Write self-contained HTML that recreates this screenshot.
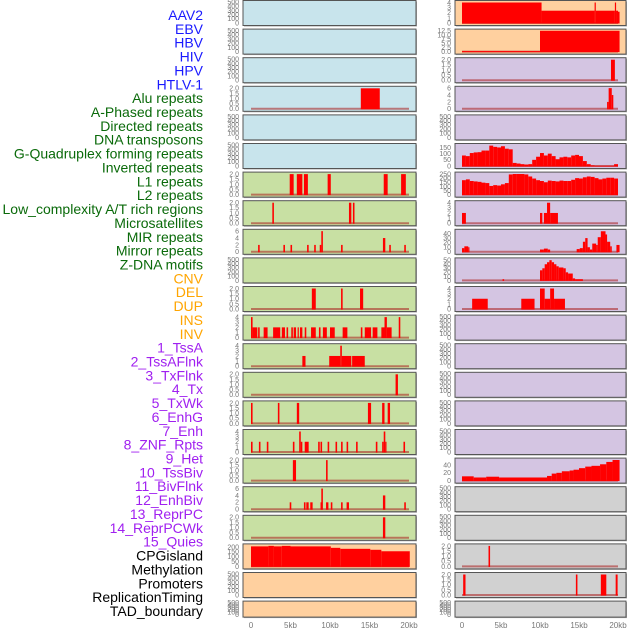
<!DOCTYPE html>
<html><head><meta charset="utf-8"><style>
html,body{margin:0;padding:0;background:#fff;}
svg{display:block;font-family:"Liberation Sans",sans-serif;}
</style></head><body>
<svg id="chart" width="630" height="630" viewBox="0 0 630 630" xmlns="http://www.w3.org/2000/svg"></svg>
<script>
// ---- labels ----
const trackLabels = ["AAV2","EBV","HBV","HIV","HPV","HTLV-1","Alu repeats","A-Phased repeats","Directed repeats","DNA transposons","G-Quadruplex forming repeats","Inverted repeats","L1 repeats","L2 repeats","Low_complexity A/T rich regions","Microsatellites","MIR repeats","Mirror repeats","Z-DNA motifs","CNV","DEL","DUP","INS","INV","1_TssA","2_TssAFlnk","3_TxFlnk","4_Tx","5_TxWk","6_EnhG","7_Enh","8_ZNF_Rpts","9_Het","10_TssBiv","11_BivFlnk","12_EnhBiv","13_ReprPC","14_ReprPCWk","15_Quies","CPGisland","Methylation","Promoters","ReplicationTiming","TAD_boundary"];
const labelGroups = ["virus","virus","virus","virus","virus","virus","repeat","repeat","repeat","repeat","repeat","repeat","repeat","repeat","repeat","repeat","repeat","repeat","repeat","sv","sv","sv","sv","sv","chrom","chrom","chrom","chrom","chrom","chrom","chrom","chrom","chrom","chrom","chrom","chrom","chrom","chrom","chrom","other","other","other","other","other"];
const xTicks = [0,5,10,15,20];
const xTickLabels = ["0","5kb","10kb","15kb","20kb"];
// ---- series: [startKb, endKb, value] ----
const dHIV = [[13.9,16.3,2]];
const dAlu = [[4.9,5.4,2],[5.8,6.5,2],[6.7,7.2,2],[9.7,10.1,2],[16.8,17.3,2],[19.0,19.6,2]];
const dAPhased = [[2.7,2.9,2],[12.4,12.7,2],[12.9,13.1,2]];
const dDirected = [[0.9,1.1,2],[4.1,4.3,2],[5.0,5.2,2],[7.1,7.3,2],[8.0,8.2,2],[8.7,8.9,2],[8.9,9.1,6],[11.4,11.6,2],[16.7,17.0,4],[17.5,17.7,2],[19.4,19.6,2]];
const dGQuad = [[7.7,8.2,2],[11.4,11.6,2],[13.8,14.2,2]];
const dInverted = [[0.0,0.2,4],[0.2,0.8,2],[0.9,1.1,2],[1.6,2.1,2],[2.8,3.7,2],[3.9,4.3,2],[4.5,4.7,2],[5.1,5.3,2],[5.4,5.7,2],[5.9,6.0,2],[6.2,6.5,2],[6.8,7.0,2],[7.6,8.2,2],[8.6,8.8,2],[9.1,9.6,2],[10.0,10.6,2],[11.6,12.2,2],[13.9,14.1,2],[14.4,15.2,2],[15.4,16.0,2],[16.5,16.9,2],[16.9,17.2,4],[17.2,17.8,2],[18.7,18.9,4]];
const dL1 = [[6.5,6.9,2],[9.9,11.3,2],[11.3,11.5,4],[11.5,12.7,2],[12.8,14.4,2]];
const dL2 = [[18.3,18.6,2]];
const dLowComplex = [[0.0,0.2,2],[3.4,3.6,2],[5.8,6.1,2],[14.8,15.2,2],[16.6,16.9,2],[17.3,17.6,2]];
const dMicrosat = [[0.0,0.2,2],[1.0,1.2,2],[2.0,2.2,2],[5.3,5.5,2],[6.1,6.3,4],[6.3,6.5,2],[6.8,7.3,2],[8.5,8.7,2],[8.8,9.0,2],[9.7,9.9,2],[10.7,10.9,2],[11.4,11.6,2],[12.1,12.3,2],[13.3,13.5,2],[15.8,16.0,2],[16.6,16.8,2],[16.8,17.0,4],[17.0,17.1,2],[19.3,19.5,2]];
const dMIR = [[5.3,5.7,2],[9.5,9.7,2]];
const dMirror = [[4.9,5.1,2],[6.7,6.9,2],[7.0,7.3,2],[7.5,7.8,2],[8.8,8.9,2],[8.9,9.1,6],[9.5,9.8,2],[10.1,10.3,2],[11.4,11.6,2],[12.1,12.4,2],[16.7,17.0,4],[19.4,19.6,2]];
const dZDNA = [[16.7,17.0,2]];
const dCNV = [[0.0,2.2,205],[2.2,2.9,210],[2.9,3.9,205],[3.9,5.0,210],[5.0,10.1,205],[10.1,11.3,190],[11.3,15.1,180],[15.1,16.5,170],[16.5,20.1,155]];
const dINS = [[0.0,10.2,4],[10.2,17.0,2.4],[17.0,17.15,4],[17.15,19.6,2.4],[19.6,19.75,4],[19.75,20.0,2.4],[20.0,20.2,2.2]];
const dINV = [[0.0,10.0,0.3],[10.0,20.2,12.5]];
const dTssA = [[19.1,19.6,2]];
const dTssAFlnk = [[18.6,18.8,2],[18.8,19.2,6],[19.2,19.4,4]];
const dTx = [[0,0.5,85],[0.5,1,80],[1,1.5,105],[1.5,2,110],[2,2.5,112],[2.5,3,125],[3,3.5,125],[3.5,4,165],[4,4.5,155],[4.5,5,150],[5,5.5,160],[5.5,6,140],[6,6.5,135],[6.5,7,25],[7,7.5,20],[7.5,8,15],[8,8.5,12],[8.5,9,15],[9,9.5,50],[9.5,10,75],[10,10.5,105],[10.5,11,85],[11,11.5,100],[11.5,12,80],[12,12.5,55],[12.5,13,70],[13,13.5,75],[13.5,14,70],[14,14.5,85],[14.5,15,90],[15,15.5,80],[15.5,16,40],[16,16.5,15],[16.5,17,5],[17,19.5,2],[19.5,20,15]];
const dTxWk = [[0,0.5,175],[0.5,1,185],[1,1.5,165],[1.5,2,160],[2,2.5,155],[2.5,3,145],[3,3.5,140],[3.5,4,105],[4,4.5,115],[4.5,5,110],[5,5.5,125],[5.5,6,140],[6,6.5,245],[6.5,7,250],[7,7.5,250],[7.5,8,250],[8,8.5,245],[8.5,9,220],[9,9.5,195],[9.5,10,175],[10,10.5,165],[10.5,11,150],[11,11.5,170],[11.5,12,165],[12,12.5,160],[12.5,13,170],[13,13.5,165],[13.5,14,165],[14,14.5,180],[14.5,15,200],[15,15.5,195],[15.5,16,210],[16,16.5,220],[16.5,17,215],[17,17.5,200],[17.5,18,185],[18,18.5,195],[18.5,19,205],[19,19.5,205],[19.5,20,195]];
const dEnhG = [[0.0,0.5,2],[10.0,10.3,2],[10.5,10.9,2],[10.9,11.3,4],[11.3,12.3,2]];
const dEnh = [[0.0,0.3,8],[0.3,0.8,12],[0.8,0.9,10],[10.0,10.5,5],[10.5,11.0,7],[11.0,11.3,5],[14.7,15.1,6],[15.1,15.5,8],[15.5,15.8,22],[15.8,16.1,30],[16.1,16.4,10],[16.4,16.7,5],[16.7,17.2,18],[17.2,17.4,15],[17.4,17.8,32],[17.8,18.4,45],[18.4,18.6,38],[18.6,19.0,22],[19.0,19.2,12],[19.8,20.2,15]];
const dZNF = [[5.2,5.4,3],[10.0,10.3,25],[10.3,10.6,30],[10.6,10.9,40],[10.9,11.2,45],[11.2,11.5,50],[11.5,11.8,45],[11.8,12.1,40],[12.1,12.4,35],[12.4,13.0,32],[13.0,13.3,30],[13.3,13.6,20],[13.6,14.2,17],[14.2,14.5,5],[14.5,15.5,3]];
const dHet = [[1.3,3.3,2],[7.6,9.3,2],[10.0,10.6,4],[10.6,11.3,2],[11.3,11.8,4],[11.8,13.2,2]];
const dQuies = [[0,1.5,11],[1.5,3.1,8],[3.1,4.75,10],[4.75,10.9,8],[10.9,11.5,12],[11.5,12.1,18],[12.1,12.8,20],[12.8,13.8,24],[13.8,14.3,26],[14.3,15.0,28],[15.0,15.8,32],[15.8,16.6,36],[16.6,17.7,38],[17.7,18.5,42],[18.5,19.3,48],[19.3,20.2,53]];
const dPromoters = [[3.4,3.6,2]];
const dRepTiming = [[0.15,0.45,2],[14.6,14.8,2],[17.8,18.5,2],[19.7,19.95,2]];
// y ticks per panel kind
const ticksEmpty = [0,100,200,300,400,500];
const ticks2 = [0,0.5,1.0,1.5,2.0];
const ticks4 = [0,1,2,3,4];
const ticks6 = [0,2,4,6];
const ticksCNV = [0,50,100,150,200];
const ticksINV = [0,2.5,5,7.5,10,12.5];
const ticks150 = [0,50,100,150];
const ticks250 = [0,50,100,150,200,250];
const ticks40 = [0,10,20,30,40];
const ticks50 = [0,10,20,30,40,50];
const ticksQ = [0,20,40];

const leftPanels = [
 [null,ticksEmpty,500,"blue"],[null,ticksEmpty,500,"blue"],[null,ticksEmpty,500,"blue"],
 [dHIV,ticks2,2.05,"blue"],[null,ticksEmpty,500,"blue"],[null,ticksEmpty,500,"blue"],
 [dAlu,ticks2,2.05,"green"],[dAPhased,ticks2,2.05,"green"],[dDirected,ticks6,6.1,"green"],
 [null,ticksEmpty,500,"green"],[dGQuad,ticks2,2.05,"green"],[dInverted,ticks4,4.1,"green"],
 [dL1,ticks4,4.1,"green"],[dL2,ticks2,2.05,"green"],[dLowComplex,ticks2,2.05,"green"],
 [dMicrosat,ticks4,4.1,"green"],[dMIR,ticks2,2.05,"green"],[dMirror,ticks6,6.1,"green"],
 [dZDNA,ticks2,2.05,"green"],[dCNV,ticksCNV,215,"orange"],[null,ticksEmpty,500,"orange"],[null,ticksEmpty,500,"orange"]
];
const rightPanels = [
 [dINS,ticks4,4.1,"orange"],[dINV,ticksINV,12.6,"orange"],[dTssA,ticks2,2.05,"purple"],
 [dTssAFlnk,ticks6,6.1,"purple"],[null,ticksEmpty,500,"purple"],[dTx,ticks150,170,"purple"],
 [dTxWk,ticks250,255,"purple"],[dEnhG,ticks4,4.1,"purple"],[dEnh,ticks40,46,"purple"],
 [dZNF,ticks50,52,"purple"],[dHet,ticks4,4.1,"purple"],[null,ticksEmpty,500,"purple"],
 [null,ticksEmpty,500,"purple"],[null,ticksEmpty,500,"purple"],[null,ticksEmpty,500,"purple"],
 [null,ticksEmpty,500,"purple"],[dQuies,ticksQ,54,"purple"],[null,ticksEmpty,500,"gray"],
 [null,ticksEmpty,500,"gray"],[dPromoters,ticks2,2.05,"gray"],[dRepTiming,ticks2,2.05,"gray"],[null,ticksEmpty,500,"gray"]
];

const NS = "http://www.w3.org/2000/svg";
const svg = document.getElementById("chart");
const bgColors = {blue:"#c8e4ec",green:"#c8e0a3",orange:"#ffd09f",purple:"#d4c5e2",gray:"#d1d1d1"};
const labelColors = {virus:"#1a1aff",repeat:"#0a6a0a",sv:"#ffa500",chrom:"#a020f0",other:"#000000"};
function mk(tag, attrs){const e=document.createElementNS(NS,tag);for(const k in attrs)e.setAttribute(k,attrs[k]);return e;}

// labels
trackLabels.forEach((t,i)=>{
  const el = mk("text",{x:203,y:20+i*13.86,"text-anchor":"end","font-size":"14",fill:labelColors[labelGroups[i]]});
  el.textContent=t;
  
  
  svg.appendChild(el);
});

function fmt(v,ticks){const dec=ticks.some(t=>t%1!==0);return dec?v.toFixed(1):String(v);}

function drawColumn(panels, x0, x1, xZero, xScale, colName){
  const xs = kb => xZero + kb*xScale;
  panels.forEach((p,i)=>{
    const [data,ticks,ymax,bg]=p;
    const top = 0.5 + i*28.6;
    const h = (i===panels.length-1)?16:25;
    const yb = top + h - 2.5, yt = top + 1.5;
    const ys = v => yb - (v/ymax)*(yb-yt);
    const g = mk("g",{});
    
    
    g.appendChild(mk("rect",{x:x0+1,y:top+1,width:x1-x0,height:h,fill:"#aaa"}));
    g.appendChild(mk("rect",{x:x0,y:top,width:x1-x0,height:h,fill:bgColors[bg],stroke:"#555","stroke-width":1}));
    ticks.forEach(t=>{
      const tl=mk("text",{x:x0-4,y:ys(t)+2.4,"text-anchor":"end","font-size":"7",fill:"#777"});
      tl.textContent=fmt(t,ticks);
      
      
      g.appendChild(tl);
    });
    if(data){
      g.appendChild(mk("line",{x1:xs(0),x2:xs(20),y1:yb,y2:yb,stroke:"rgba(170,30,30,0.55)","stroke-width":2}));
      data.forEach(d=>{
        const r=mk("rect",{x:xs(d[0]),y:ys(Math.min(d[2],ymax)),width:Math.max(1.2,xs(d[1])-xs(d[0])),height:yb-ys(Math.min(d[2],ymax))+0.5,fill:"#ff0000"});
        
        
        g.appendChild(r);
      });
    }
    svg.appendChild(g);
  });
  xTicks.forEach((t,k)=>{
    const tl=mk("text",{x:xs(t),y:628,"text-anchor":"middle","font-size":"8",fill:"#777"});
    tl.textContent=xTickLabels[k];
    
    
    svg.appendChild(tl);
  });
}
drawColumn(leftPanels,243,416,251,7.9,"left");
drawColumn(rightPanels,455,626,462,7.8,"right");
</script>
</body></html>
